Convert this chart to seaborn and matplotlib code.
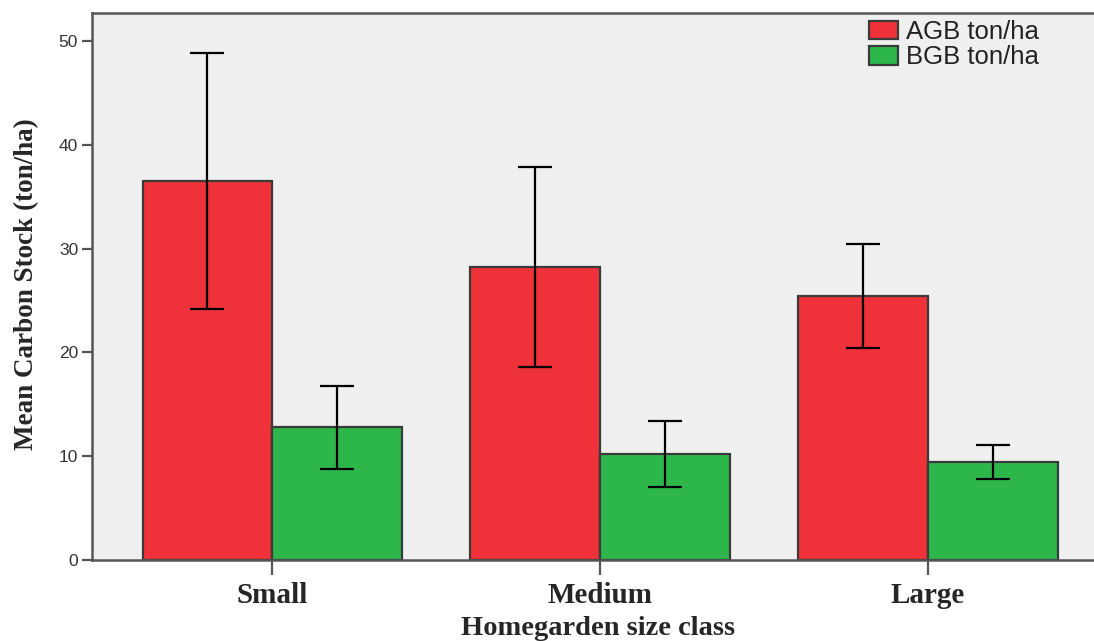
import matplotlib
matplotlib.use("Agg")
import matplotlib.pyplot as plt
import seaborn as sns
import pandas as pd
import numpy as np

# Mean carbon stock per homegarden size class, with error-bar limits
size_classes = ["Small", "Medium", "Large"]
series_names = ["AGB ton/ha", "BGB ton/ha"]
agb_mean = [36.5, 28.2, 25.4]
agb_low = [24.2, 18.6, 20.4]
agb_high = [48.8, 37.9, 30.4]
bgb_mean = [12.8, 10.2, 9.4]
bgb_low = [8.8, 7.0, 7.8]
bgb_high = [16.8, 13.4, 11.1]

colors = ["#EF3139", "#2DB74B"]
edge = "#3a3a3a"

df = pd.DataFrame({
    "size": size_classes * 2,
    "series": [series_names[0]] * 3 + [series_names[1]] * 3,
    "value": agb_mean + bgb_mean,
})

sns.set_style("white")
plt.rcParams["font.family"] = ["Liberation Sans", "DejaVu Sans"]

fig = plt.figure(figsize=(10.94, 6.41), dpi=100)
ax = fig.add_axes([92 / 1094, 81 / 641, (1110 - 92) / 1094, 547 / 641])
ax.set_facecolor("#EFEFEF")

sns.barplot(data=df, x="size", y="value", hue="series", order=size_classes,
            hue_order=series_names, palette=colors, width=0.79, errorbar=None,
            edgecolor=edge, linewidth=1.6, saturation=1, ax=ax)

# Error bars centred on each bar
means = [agb_mean, bgb_mean]
lows = [agb_low, bgb_low]
highs = [agb_high, bgb_high]
for k, container in enumerate(ax.containers[:2]):
    for j, patch in enumerate(container):
        cx = patch.get_x() + patch.get_width() / 2
        m = means[k][j]
        ax.errorbar(cx, m, yerr=[[m - lows[k][j]], [highs[k][j] - m]],
                    fmt="none", ecolor="black", elinewidth=1.6,
                    capsize=12.5, capthick=1.6, zorder=5)

ax.set_xlim(-0.549, 2.555)
ax.set_ylim(0, 52.7)
ax.set_yticks([0, 10, 20, 30, 40, 50])

for side in ["left", "bottom", "top"]:
    ax.spines[side].set_visible(True)
    ax.spines[side].set_color("#555555")
    ax.spines[side].set_linewidth(1.8)
ax.spines["right"].set_visible(False)

ax.tick_params(axis="y", direction="out", length=7, width=1.6, color="#555555",
               labelsize=12.5, labelcolor="#333333", pad=3, left=True)
ax.tick_params(axis="x", direction="out", length=11, width=1.6, color="#555555",
               pad=5, bottom=True)
for lab in ax.get_xticklabels():
    lab.set_fontfamily("Liberation Serif")
    lab.set_fontweight("bold")
    lab.set_fontsize(21)

ax.set_xlabel("Homegarden size class", fontfamily="Liberation Serif",
              fontweight="bold", fontsize=20.5)
ax.xaxis.label.set_va("baseline")
ax.xaxis.set_label_coords((598 - 92) / (1110 - 92), (560 - 635) / 547)
ax.set_ylabel("Mean Carbon Stock (ton/ha)", fontfamily="Liberation Serif",
              fontweight="bold", fontsize=19.5)
ax.yaxis.label.set_va("center")
ax.yaxis.set_label_coords(-(92 - 27) / (1110 - 92), (560 - 284) / 547)

leg = ax.legend(loc="upper left", bbox_to_anchor=(869 / 1094, 1 - 20 / 641),
                bbox_transform=fig.transFigure, frameon=False, fontsize=18.5,
                handlelength=1.13, handleheight=0.74, handletextpad=0.3,
                labelspacing=0.05, borderaxespad=0, borderpad=0)
for h in leg.legend_handles:
    h.set_edgecolor(edge)
    h.set_linewidth(1.6)
for t in leg.get_texts():
    t.set_color("#222222")

fig.savefig("out.png", dpi=100, facecolor="white")
